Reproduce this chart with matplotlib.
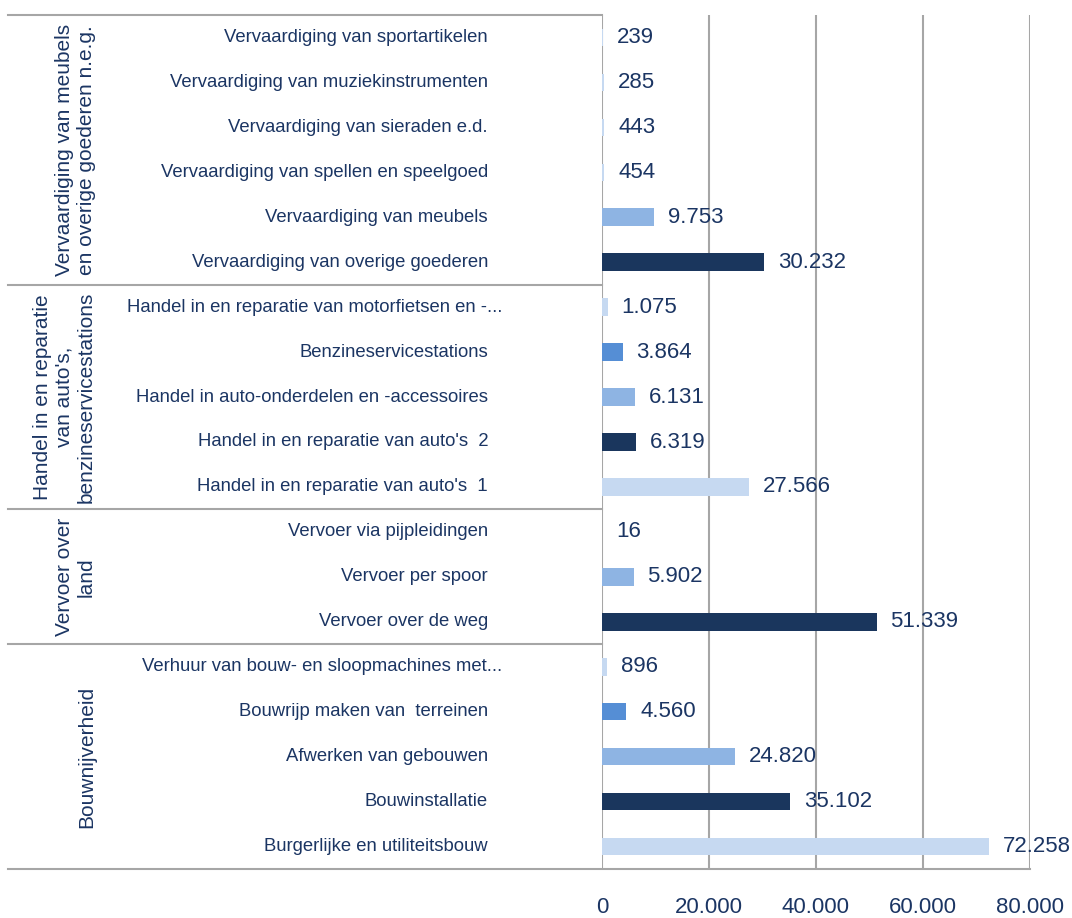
import numpy as np
import matplotlib
matplotlib.use("Agg")
import matplotlib.pyplot as plt

# categories top to bottom
labels = [
    "Vervaardiging van sportartikelen",
    "Vervaardiging van muziekinstrumenten",
    "Vervaardiging van sieraden e.d.",
    "Vervaardiging van spellen en speelgoed",
    "Vervaardiging van meubels",
    "Vervaardiging van overige goederen",
    "Handel in en reparatie van motorfietsen en -...",
    "Benzineservicestations",
    "Handel in auto-onderdelen en -accessoires",
    "Handel in en reparatie van auto's  2",
    "Handel in en reparatie van auto's  1",
    "Vervoer via pijpleidingen",
    "Vervoer per spoor",
    "Vervoer over de weg",
    "Verhuur van bouw- en sloopmachines met...",
    "Bouwrijp maken van  terreinen",
    "Afwerken van gebouwen",
    "Bouwinstallatie",
    "Burgerlijke en utiliteitsbouw",
]
values = [239, 285, 443, 454, 9753, 30232,
          1075, 3864, 6131, 6319, 27566,
          16, 5902, 51339,
          896, 4560, 24820, 35102, 72258]
shade = ["vlight", "vlight", "vlight", "vlight", "light", "dark",
         "vlight", "mid", "light", "dark", "vlight",
         "light", "light", "dark",
         "vlight", "mid", "light", "dark", "vlight"]

groups = [
    "Vervaardiging van meubels\nen overige goederen n.e.g.",
    "Handel in en reparatie\nvan auto's,\nbenzineservicestations",
    "Vervoer over\nland",
    "Bouwnijverheid",
]
group_sizes = [6, 5, 3, 5]

xticks = [0, 20000, 40000, 60000, 80000]

palette = {"dark": "#1A365D", "mid": "#558ED5", "light": "#8EB4E3", "vlight": "#C6D9F1"}
txt = "#1B3563"
grid_col = "#A6A6A6"
font = ["Liberation Sans", "DejaVu Sans"]


def nl(v):
    return f"{v:,}".replace(",", ".")


W, H = 1072, 918
fig = plt.figure(figsize=(W / 100, H / 100), dpi=100)
x0, x1, y0, y1 = 602, 1030, 15, 869
ax = fig.add_axes([x0 / W, 1 - y1 / H, (x1 - x0) / W, (y1 - y0) / H])

y = np.arange(len(values))
ax.barh(y, values, height=0.39, color=[palette[s] for s in shade], zorder=3)
ax.set_ylim(len(values) - 0.5, -0.5)
ax.set_xlim(0, 80000)

for v, yy in zip(values, y):
    ax.annotate(nl(v), (v, yy), xytext=(10, 0), textcoords="offset points",
                ha="left", va="center", fontsize=16, color=txt, family=font, zorder=4)

# category labels
ytr = ax.get_yaxis_transform()
for lab, yy in zip(labels, y):
    xo = -100 / (x1 - x0) if lab.endswith("...") else -114 / (x1 - x0)
    ax.text(xo, yy, lab, transform=ytr, ha="right", va="center",
            fontsize=13.3, color=txt, family=font)

# gridlines
for t in xticks:
    ax.axvline(t, color=grid_col, lw=1.5, zorder=1)
ax.set_xticks(xticks)
ax.set_xticklabels([nl(t) for t in xticks], fontsize=16, color=txt, family=font)
ax.tick_params(axis="x", length=0, pad=20)
ax.tick_params(axis="y", left=False, labelleft=False)
for s in ax.spines.values():
    s.set_visible(False)

# group separators and labels
left_ax = (8 - x0) / (x1 - x0)
start = 0
for g, n in zip(groups, group_sizes):
    top = start - 0.5
    ax.plot([left_ax, 0], [top, top], transform=ytr, color=grid_col, lw=1.5, clip_on=False)
    mid = start + (n - 1) / 2
    ax.text((96 - x0) / (x1 - x0), mid, g, transform=ytr, rotation=90, ha="right", va="center",
            multialignment="center", fontsize=15, color=txt, family=font, linespacing=1.2)
    start += n
ax.plot([left_ax, 1], [start - 0.5, start - 0.5], transform=ytr, color=grid_col, lw=1.5, clip_on=False)

fig.savefig("out.png", dpi=100)
